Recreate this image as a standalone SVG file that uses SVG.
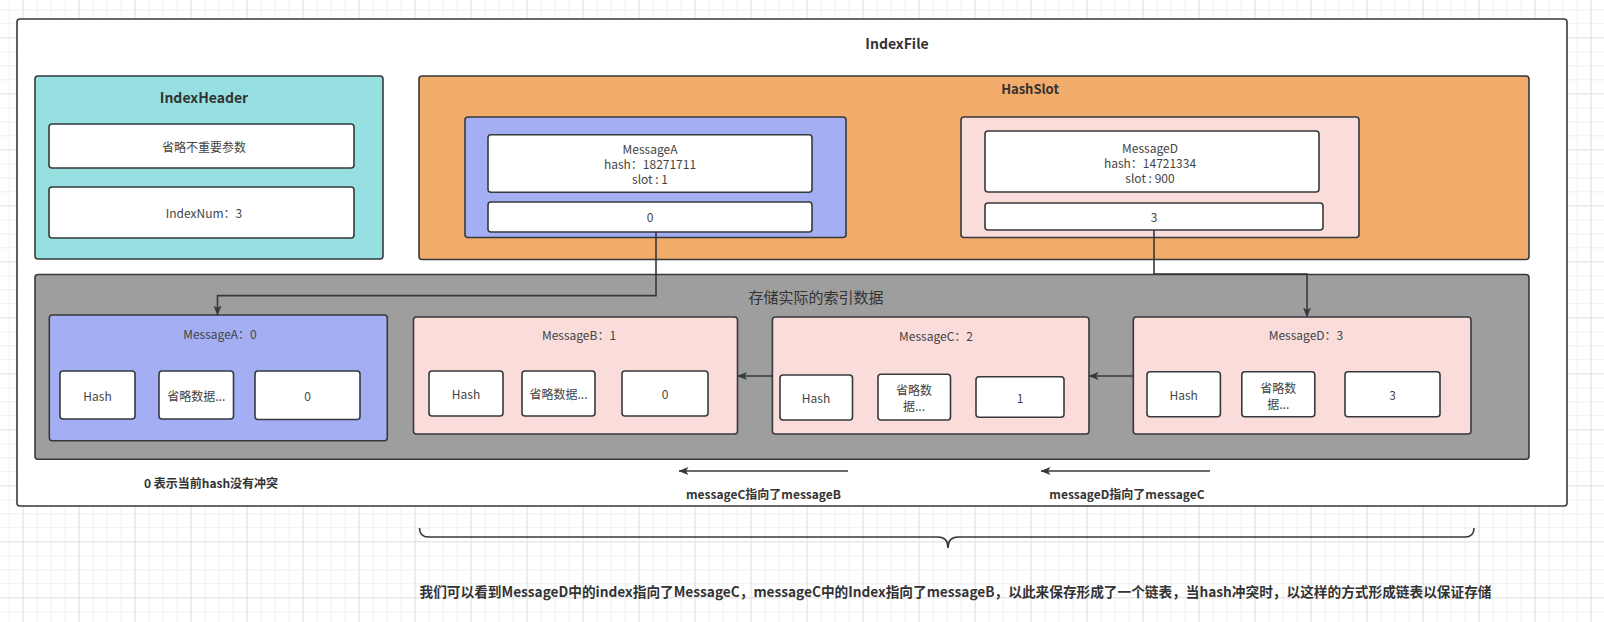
<svg xmlns="http://www.w3.org/2000/svg" width="1604" height="622" viewBox="0 0 1604 622">
<style>
text{font-family:"Noto Sans CJK SC","Noto Sans",sans-serif;fill:#444;font-size:12px;text-anchor:middle;dominant-baseline:central}
.b{font-weight:bold;fill:#333}
.t14{font-size:14px}
.t13{font-size:13px}
.t15{font-size:15px;fill:#333}
.box{stroke:#36393d;stroke-width:1.6}
.w{fill:#ffffff}
.cy{fill:#97e0e1}
.or{fill:#f1ab6a}
.bl{fill:#a4aef2}
.pk{fill:#fadcda}
.gr{fill:#9e9e9e}
.edge{fill:none;stroke:#36393d;stroke-width:1.6}
</style>
<defs>
<pattern id="minor" width="14" height="14" patternUnits="userSpaceOnUse" x="8.7" y="9.3">
<path d="M0,0.5H14M0.5,0V14" fill="none" stroke="#f0f0f0" stroke-width="1"/>
</pattern>
<pattern id="major" width="56" height="56" patternUnits="userSpaceOnUse" x="22.7" y="37.3">
<path d="M0,0.5H56M0.5,0V56" fill="none" stroke="#e3e3e3" stroke-width="1"/>
</pattern>
<marker id="arr" viewBox="0 0 10 8" refX="9.5" refY="4" markerWidth="10" markerHeight="8" markerUnits="userSpaceOnUse" orient="auto">
<path d="M0,0L10,4L0,8L2.5,4z" fill="#36393d"/>
</marker>
</defs>
<rect width="1604" height="622" fill="#ffffff"/>
<rect width="1604" height="622" fill="url(#minor)"/>
<rect width="1604" height="622" fill="url(#major)"/>

<g id="indexfile">
<rect class="box w" x="17" y="19" width="1550" height="487" rx="3"/>
<text class="b t14" x="897" y="43">IndexFile</text>
</g>

<g id="indexheader">
<rect class="box cy" x="35" y="76" width="348" height="183" rx="3"/>
<text class="b t14" x="204" y="97">IndexHeader</text>
<rect class="box w" x="49" y="124" width="305" height="44" rx="3"/>
<text x="204" y="146.5">省略不重要参数</text>
<rect class="box w" x="49" y="187" width="305" height="51" rx="3"/>
<text x="204" y="212.5">IndexNum：3</text>
</g>

<g id="hashslot">
<rect class="box or" x="419" y="76" width="1110" height="183.5" rx="3"/>
<text class="b t13" x="1030" y="88">HashSlot</text>
</g>

<g id="slot-messageA">
<rect class="box bl" x="465" y="117" width="381" height="120.5" rx="3"/>
<rect class="box w" x="488" y="134.7" width="324" height="57.6" rx="3"/>
<text x="650" y="148.7">MessageA</text>
<text x="650" y="163.5">hash：18271711</text>
<text x="650" y="178.3">slot : 1</text>
<rect class="box w" x="488" y="202" width="324" height="30" rx="3"/>
<text x="650" y="216.7">0</text>
</g>

<g id="slot-messageD">
<rect class="box pk" x="961" y="117" width="398" height="120.5" rx="3"/>
<rect class="box w" x="985" y="131" width="334" height="61" rx="3"/>
<text x="1150" y="147">MessageD</text>
<text x="1150" y="162">hash：14721334</text>
<text x="1150" y="177">slot : 900</text>
<rect class="box w" x="985" y="203" width="338" height="27" rx="3"/>
<text x="1154" y="216.7">3</text>
</g>

<g id="storage">
<rect class="box gr" x="35" y="274.5" width="1494" height="184.8" rx="3"/>
<text class="t15" x="816" y="296">存储实际的索引数据</text>
</g>

<g id="row-messageA">
<rect class="box bl" x="49.3" y="315" width="338" height="125.7" rx="3"/>
<text x="220" y="333">MessageA：0</text>
<rect class="box w" x="60" y="371" width="75" height="48" rx="3"/>
<text x="97.5" y="395">Hash</text>
<rect class="box w" x="159" y="371" width="74.5" height="48" rx="3"/>
<text x="196.3" y="395">省略数据...</text>
<rect class="box w" x="255" y="371" width="105" height="48.5" rx="3"/>
<text x="307.5" y="395">0</text>
</g>

<g id="row-messageB">
<rect class="box pk" x="413.5" y="317" width="324" height="117" rx="3"/>
<text x="579" y="334">MessageB：1</text>
<rect class="box w" x="429" y="371" width="74" height="45" rx="3"/>
<text x="466" y="393.5">Hash</text>
<rect class="box w" x="522" y="371" width="73" height="45" rx="3"/>
<text x="558.5" y="393.5">省略数据...</text>
<rect class="box w" x="622" y="371" width="86" height="45" rx="3"/>
<text x="665" y="393.5">0</text>
</g>

<g id="row-messageC">
<rect class="box pk" x="772.4" y="317" width="316.6" height="117" rx="3"/>
<text x="936" y="335">MessageC：2</text>
<rect class="box w" x="780" y="375" width="72.5" height="45" rx="3"/>
<text x="816" y="397.5">Hash</text>
<rect class="box w" x="878" y="374.3" width="72.5" height="45.7" rx="3"/>
<text x="914" y="389">省略数</text>
<text x="914" y="405.5">据...</text>
<rect class="box w" x="976" y="376.7" width="88" height="40.6" rx="3"/>
<text x="1020" y="397">1</text>
</g>

<g id="row-messageD">
<rect class="box pk" x="1133.3" y="317" width="337.7" height="117" rx="3"/>
<text x="1306" y="334">MessageD：3</text>
<rect class="box w" x="1147" y="371.7" width="73.4" height="45" rx="3"/>
<text x="1183.7" y="394.2">Hash</text>
<rect class="box w" x="1241.8" y="371.7" width="73" height="45" rx="3"/>
<text x="1278.3" y="387">省略数</text>
<text x="1278.3" y="403.3">据...</text>
<rect class="box w" x="1345" y="371.7" width="95" height="45" rx="3"/>
<text x="1392.5" y="394.2">3</text>
</g>

<g id="connectors">
<path class="edge" d="M656,232V295.6H217.5V315" marker-end="url(#arr)"/>
<path class="edge" d="M1154,230V274H1307V317" marker-end="url(#arr)"/>
<path class="edge" d="M1133.3,376H1089" marker-end="url(#arr)"/>
<path class="edge" d="M772.4,376H737.5" marker-end="url(#arr)"/>
<path class="edge" d="M848,471H679" marker-end="url(#arr)"/>
<path class="edge" d="M1210,471H1041" marker-end="url(#arr)"/>
<path class="edge" d="M419.5,528Q419.5,537 428.5,537L938,537Q948,537 948,548Q948,537 958,537L1465,537Q1474,537 1474,528"/>
</g>

<g id="labels">
<text class="b" x="211" y="482.5">0 表示当前hash没有冲突</text>
<text class="b" x="763.5" y="493">messageC指向了messageB</text>
<text class="b" x="1127" y="493">messageD指向了messageC</text>
<text class="b t14" x="955.5" y="590.5" textLength="1072" lengthAdjust="spacingAndGlyphs">我们可以看到MessageD中的index指向了MessageC，messageC中的Index指向了messageB，以此来保存形成了一个链表，当hash冲突时，以这样的方式形成链表以保证存储</text>
</g>
</svg>
